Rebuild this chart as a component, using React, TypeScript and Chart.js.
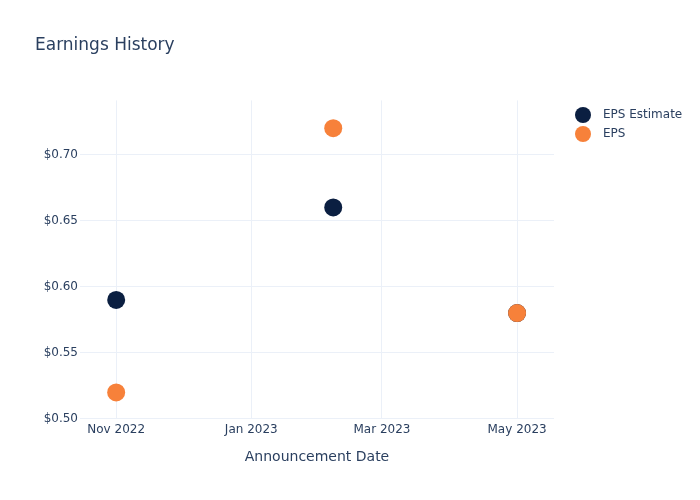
import React, { useEffect, useRef } from "react";
import { Chart, registerables } from "chart.js";

Chart.register(...registerables);

const announcementDates = ["2022-11-01", "2023-02-07", "2023-05-01"];
const epsEstimate = [0.59, 0.66, 0.58];
const epsActual = [0.52, 0.72, 0.58];
const xTickDates = ["2022-11-01", "2023-01-01", "2023-03-01", "2023-05-01"];
const yTickValues = [0.5, 0.55, 0.6, 0.65, 0.7];
const xRange = ["2022-10-15T16:00:00Z", "2023-05-17T16:00:00Z"];
const yRange = [0.5, 0.741];

const MONTHS = ["Jan", "Feb", "Mar", "Apr", "May", "Jun", "Jul", "Aug", "Sep", "Oct", "Nov", "Dec"];
const toTs = (s: string) => new Date(s.length === 10 ? s + "T00:00:00Z" : s).getTime();
const fmtDate = (v: number) => {
  const d = new Date(v);
  return MONTHS[d.getUTCMonth()] + " " + d.getUTCFullYear();
};

const TEXT = "#2a3f5f";
const GRID = "#ebf0f8";
const FONT = "'DejaVu Sans', Verdana, sans-serif";
const NAVY = "#0b1f41";
const ORANGE = "#f7813a";

const legendPlugin = {
  id: "sideLegend",
  afterDraw(chart: any) {
    const ctx = chart.ctx;
    const ds = chart.data.datasets;
    ctx.save();
    ds.forEach((d: any, i: number) => {
      const y = 115 + i * 19;
      ctx.beginPath();
      ctx.arc(583, y, 8, 0, Math.PI * 2);
      ctx.fillStyle = d.backgroundColor;
      ctx.fill();
      ctx.fillStyle = TEXT;
      ctx.font = "12px " + FONT;
      ctx.textBaseline = "middle";
      ctx.textAlign = "left";
      ctx.fillText(d.label, 603, y);
    });
    ctx.restore();
  },
};

export default function App() {
  const ref = useRef<HTMLCanvasElement | null>(null);
  useEffect(() => {
    if (!ref.current) return;
    const chart = new Chart(ref.current, {
      type: "scatter",
      data: {
        datasets: [
          {
            label: "EPS Estimate",
            data: announcementDates.map((d, i) => ({ x: toTs(d), y: epsEstimate[i] })),
            backgroundColor: NAVY,
            borderColor: NAVY,
            borderWidth: 0,
            pointRadius: 9,
            order: 1,
          },
          {
            label: "EPS",
            data: announcementDates.map((d, i) => ({ x: toTs(d), y: epsActual[i] })),
            backgroundColor: ORANGE,
            borderColor: ORANGE,
            borderWidth: 0,
            pointRadius: 9,
            order: 0,
          },
        ],
      },
      options: {
        animation: false,
        responsive: false,
        maintainAspectRatio: false,
        layout: { padding: { left: 35, right: 146, top: 0, bottom: 0 } },
        plugins: {
          legend: { display: false },
          tooltip: { enabled: false },
          title: {
            display: true,
            text: "Earnings History",
            align: "start",
            color: TEXT,
            font: { family: FONT, size: 17, weight: "normal" },
            padding: { top: 35, bottom: 45 },
          },
        },
        scales: {
          x: {
            type: "linear",
            min: toTs(xRange[0]),
            max: toTs(xRange[1]),
            afterBuildTicks: (scale: any) => {
              scale.ticks = xTickDates.map((d) => ({ value: toTs(d) }));
            },
            ticks: {
              callback: (v: any) => fmtDate(Number(v)),
              color: TEXT,
              font: { family: FONT, size: 12 },
              padding: 4,
              maxRotation: 0,
              autoSkip: false,
            },
            grid: { color: GRID, drawTicks: false },
            border: { display: false },
            title: {
              display: true,
              text: "Announcement Date",
              color: TEXT,
              font: { family: FONT, size: 14 },
              padding: { top: 8, bottom: 34 },
            },
          },
          y: {
            type: "linear",
            min: yRange[0],
            max: yRange[1],
            afterBuildTicks: (scale: any) => {
              scale.ticks = yTickValues.map((v) => ({ value: v }));
            },
            afterFit: (scale: any) => {
              scale.width = 45;
            },
            ticks: {
              callback: (v: any) => "$" + Number(v).toFixed(2),
              color: TEXT,
              font: { family: FONT, size: 12 },
              padding: 2,
            },
            grid: { color: GRID, drawTicks: false },
            border: { display: false },
          },
        },
      },
      plugins: [legendPlugin],
    } as any);
    return () => chart.destroy();
  }, []);
  return (
    <div style={{ position: "absolute", left: 0, top: 0, width: 700, height: 500, background: "#fff" }}>
      <canvas ref={ref} width={700} height={500} style={{ width: 700, height: 500 }} />
    </div>
  );
}
